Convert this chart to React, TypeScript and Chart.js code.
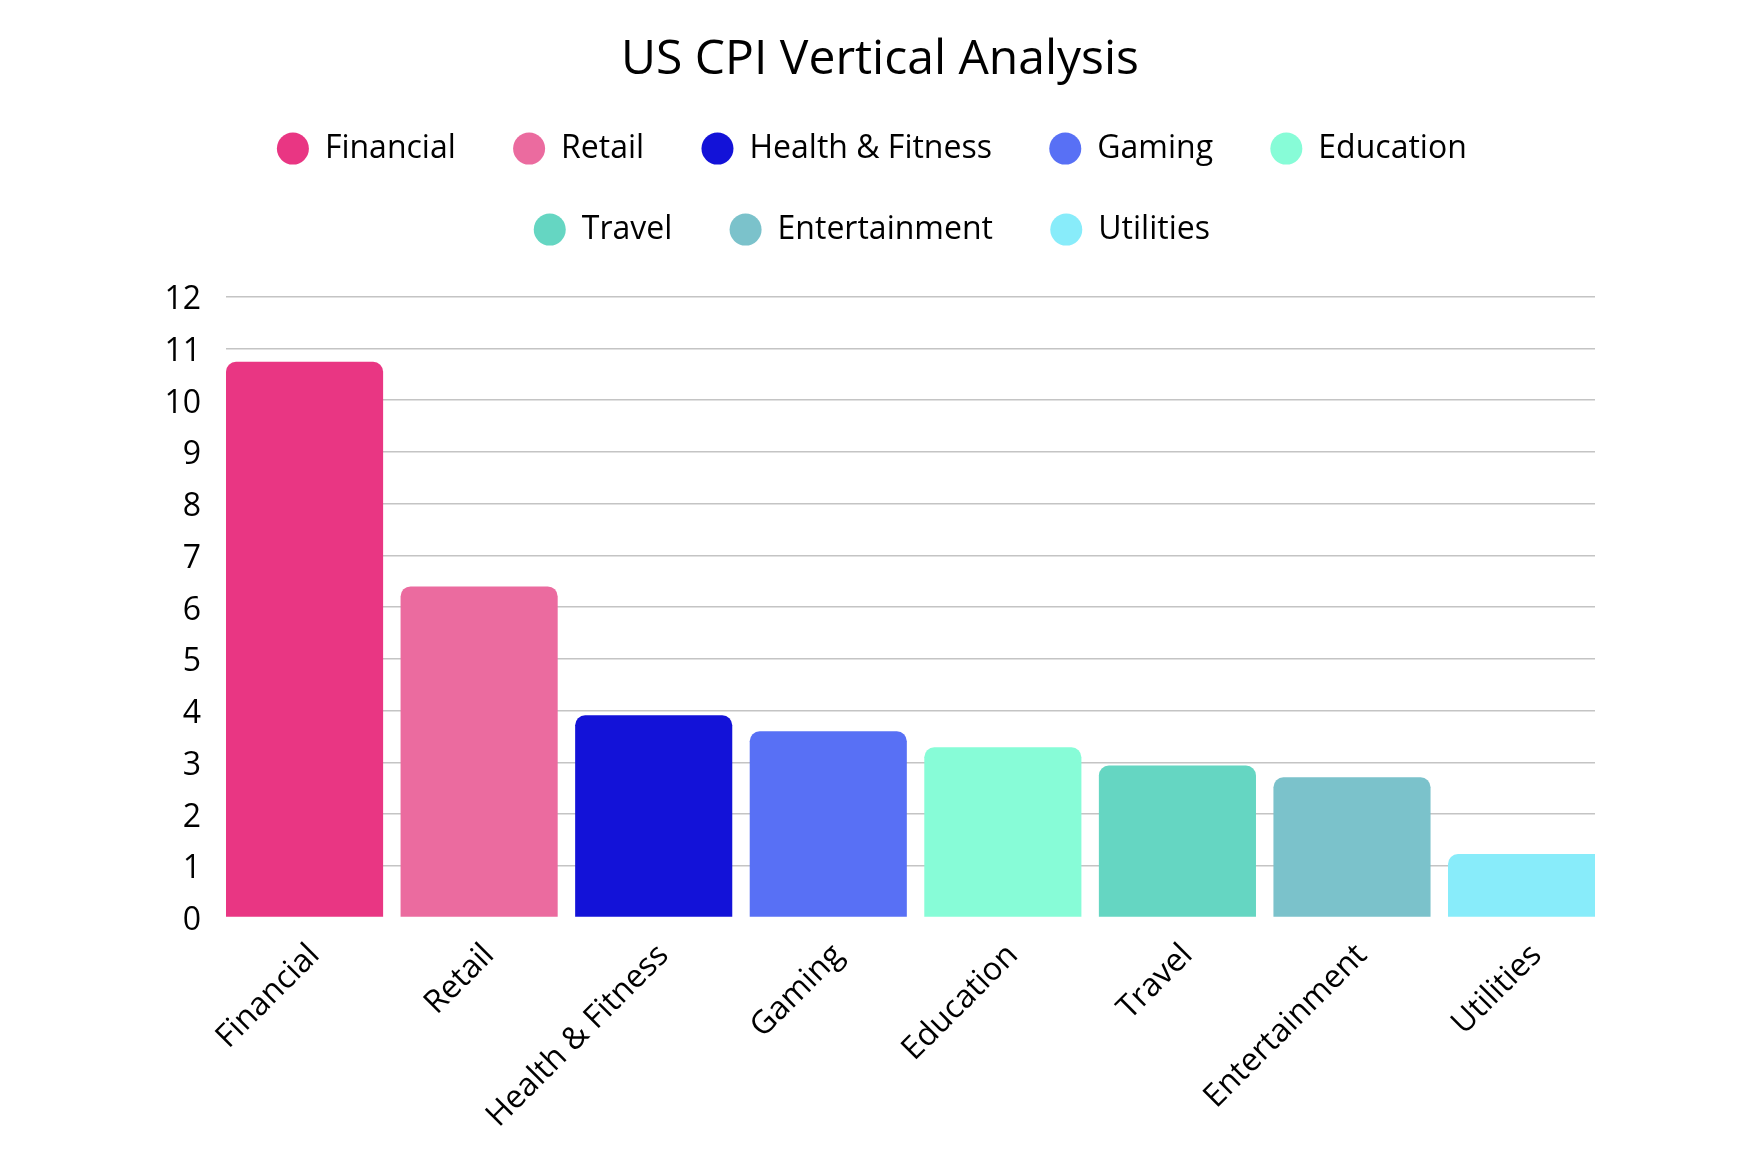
import React, { useEffect, useRef } from 'react';
import { Chart, registerables } from 'chart.js';

Chart.register(...registerables);

// ---- data ----
const chartTitle = 'US CPI Vertical Analysis';
const categories = ['Financial', 'Retail', 'Health & Fitness', 'Gaming', 'Education', 'Travel', 'Entertainment', 'Utilities'];
const values = [10.74, 6.4, 3.91, 3.6, 3.29, 2.94, 2.71, 1.23];
const colors = ['#E93683', '#EB6B9F', '#1312D8', '#5870F5', '#87FCD7', '#65D6C2', '#7BC2CB', '#88ECFA'];
const yMin = 0;
const yMax = 12;
const yStep = 1;
// x axis bounds (category index units)
const xMin = -0.45;
const xMax = 7.392;

const FONT = "'Open Sans', sans-serif";

const LEGEND_WRAP = 1430;
const LEGEND_CENTER = 868;
const LEGEND_GAP = 41;

const legendLayout = {
  id: 'legendLayout',
  beforeLayout(chart: any) {
    const legend = chart.legend;
    if (!legend || legend.__patched) return;
    legend.__patched = true;
    const fit = legend.fit;
    legend.fit = function () {
      const full = this.maxWidth;
      this.maxWidth = Math.min(full, LEGEND_WRAP);
      fit.call(this);
      this.maxWidth = full;
      this.height += LEGEND_GAP;
    };
  },
  afterLayout(chart: any) {
    const l = chart.legend;
    if (!l) return;
    l.left = LEGEND_CENTER - LEGEND_WRAP / 2;
    l.right = LEGEND_CENTER + LEGEND_WRAP / 2;
    l.width = LEGEND_WRAP;
  },
};

export default function App() {
  const ref = useRef<HTMLCanvasElement>(null);

  useEffect(() => {
    const canvas = ref.current;
    if (!canvas) return;
    const chart = new Chart(canvas, {
      type: 'bar',
      data: {
        datasets: [
          {
            label: chartTitle,
            data: values.map((v, i) => ({ x: i, y: v })),
            backgroundColor: colors,
            borderWidth: 0,
            borderRadius: 10,
            borderSkipped: 'start',
            categoryPercentage: 1,
            barPercentage: 0.9,
            clip: 0,
            xAxisID: 'x',
            yAxisID: 'y',
          } as any,
        ],
      },
      options: {
        responsive: true,
        maintainAspectRatio: false,
        animation: false,
        events: [],
        layout: { padding: 0 },
        plugins: {
          title: {
            display: true,
            text: chartTitle,
            color: '#000',
            font: { family: FONT, size: 48, weight: 'normal', lineHeight: 0.9625 },
            padding: { top: 29.4, bottom: 0 },
          },
          legend: {
            display: true,
            position: 'top',
            labels: {
              color: '#000',
              font: { family: FONT, size: 32 },
              boxWidth: 32,
              boxHeight: 22.63,
              usePointStyle: true,
              padding: 49,
              generateLabels: () =>
                categories.map((c, i) => ({
                  text: c + ' ',
                  fillStyle: colors[i],
                  strokeStyle: colors[i],
                  lineWidth: 0,
                  pointStyle: 'circle',
                  hidden: false,
                  datasetIndex: 0,
                  index: i,
                  fontColor: '#000',
                })) as any,
            },
          },
          tooltip: { enabled: false },
        },
        scales: {
          x: {
            type: 'linear',
            min: xMin,
            max: xMax,
            offset: false,
            grid: { display: false, offset: false },
            border: { display: false },
            ticks: {
              stepSize: 1,
              includeBounds: false,
              autoSkip: false,
              minRotation: 45,
              maxRotation: 45,
              padding: 11,
              labelOffset: 10,
              color: '#000',
              font: { family: FONT, size: 32 },
              callback: (v: any) => categories[v as number] ?? '',
            },
            afterFit: (s: any) => {
              s.height = 242.4;
            },
          },
          y: {
            type: 'linear',
            min: yMin,
            max: yMax,
            grid: {
              color: (c: any) => (c.tick && c.tick.value === 0 ? 'rgba(0,0,0,0)' : '#c4c4c4'),
              lineWidth: 1.5,
              drawTicks: false,
            },
            border: { display: false },
            ticks: {
              stepSize: yStep,
              padding: 25,
              labelOffset: 3.5,
              color: '#000',
              font: { family: FONT, size: 32 },
            },
            afterFit: (s: any) => {
              s.width = 218;
            },
          },
          y2: {
            type: 'linear',
            position: 'right',
            display: true,
            grid: { display: false },
            border: { display: false },
            ticks: { display: false },
            afterFit: (s: any) => {
              s.width = 157;
            },
          },
        },
      } as any,
      plugins: [legendLayout],
    });
    return () => chart.destroy();
  }, []);

  return (
    <div style={{ width: 1744, height: 1152, position: 'relative', background: '#fff' }}>
      <canvas ref={ref} />
    </div>
  );
}
